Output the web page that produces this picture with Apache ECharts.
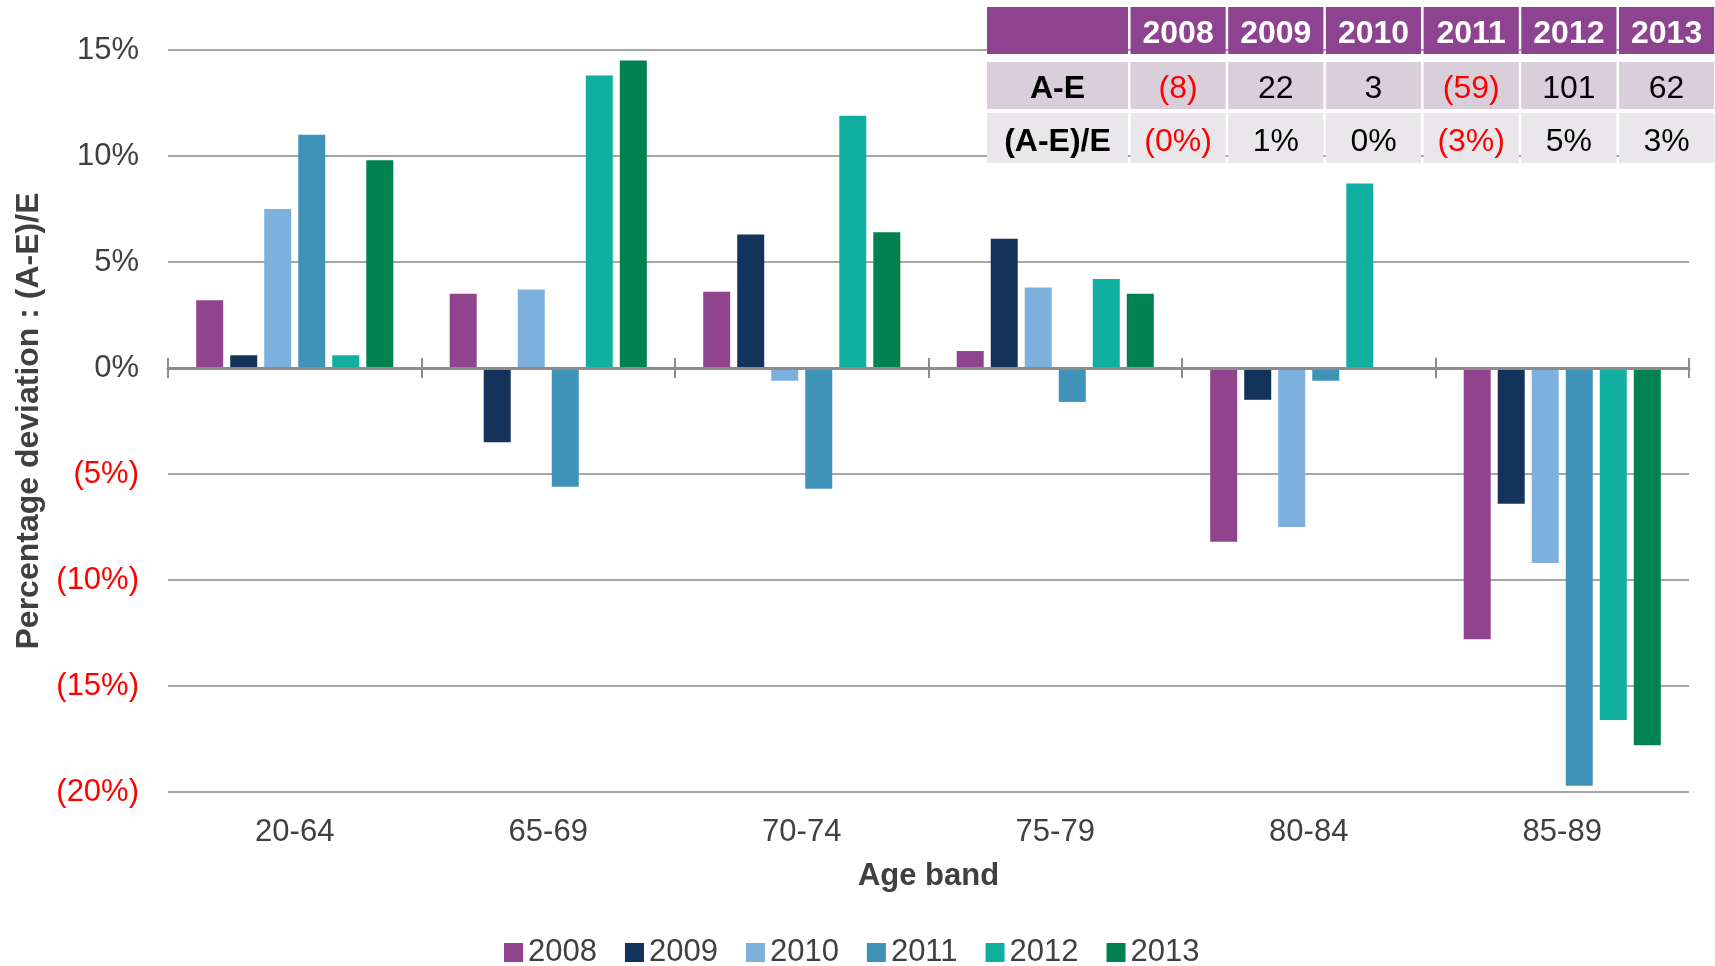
<!DOCTYPE html>
<html><head><meta charset="utf-8">
<script src="https://cdn.jsdelivr.net/npm/echarts@6/dist/echarts.min.js"></script>
<style>html,body{margin:0;padding:0;background:#fff}#c{width:1715px;height:966px}</style>
</head><body><div id="c"></div>
<script>
// ---- data ----
const categories = ['20-64', '65-69', '70-74', '75-79', '80-84', '85-89'];
const years = ['2008', '2009', '2010', '2011', '2012', '2013'];
const v2008 = [3.2, 3.5, 3.6, 0.8, -8.2, -12.8];
const v2009 = [0.6, -3.5, 6.3, 6.1, -1.5, -6.4];
const v2010 = [7.5, 3.7, -0.6, 3.8, -7.5, -9.2];
const v2011 = [11.0, -5.6, -5.7, -1.6, -0.6, -19.7];
const v2012 = [0.6, 13.8, 11.9, 4.2, 8.7, -16.6];
const v2013 = [9.8, 14.5, 6.4, 3.5, 0, -17.8];
const yMin = -20, yMax = 15, yStep = 5;
// summary table
const tableYears = years;
const rowLabels = ['A-E', '(A-E)/E'];
const aeValues = [-8, 22, 3, -59, 101, 62];
const aePct = [-0, 1, 0, -3, 5, 3];

// ---- styles ----
const seriesValues = [v2008, v2009, v2010, v2011, v2012, v2013];
const colors = ['#90448E', '#14335A', '#7EB0DE', '#4093B8', '#11AFA0', '#008250'];
const FF = '"Liberation Sans", Arial, sans-serif';
const TXT = '#404040';

function isNeg(v) { return v < 0 || Object.is(v, -0); }
function fmt(v, suffix) {
  return isNeg(v) ? '(' + Math.abs(v) + suffix + ')' : v + suffix;
}

// ---- table graphic ----
const tbl = { left: 987, firstW: 141, gap: 2.5, pitch: 97.7, colW: 95.2,
  rows: [{ y: 7, h: 47 }, { y: 62, h: 47 }, { y: 113, h: 50 }] };
const rowBg = ['#8E4390', '#D9CFDA', '#EAE7EB'];
const graphics = [];
for (let r = 0; r < 3; r++) {
  for (let c = 0; c <= tableYears.length; c++) {
    const x = c === 0 ? tbl.left : tbl.left + tbl.firstW + tbl.gap + (c - 1) * tbl.pitch;
    const w = c === 0 ? tbl.firstW : tbl.colW;
    const { y, h } = tbl.rows[r];
    graphics.push({ type: 'rect', z: 100, shape: { x: x, y: y, width: w, height: h }, style: { fill: rowBg[r] } });
    let text = '', color = '#000', weight = 'normal';
    if (r === 0) {
      if (c > 0) { text = tableYears[c - 1]; color = '#fff'; weight = 'bold'; }
    } else if (c === 0) {
      text = rowLabels[r - 1]; weight = 'bold';
    } else {
      const v = r === 1 ? aeValues[c - 1] : aePct[c - 1];
      text = fmt(v, r === 1 ? '' : '%');
      color = isNeg(v) ? '#FF0000' : '#000';
    }
    if (text) {
      graphics.push({ type: 'text', z: 101, style: { text: text, x: x + w / 2, y: y + h / 2 + 4,
        align: 'center', verticalAlign: 'middle', fill: color, fontSize: 32, fontWeight: weight, fontFamily: FF } });
    }
  }
}

const tickStyle = { color: '#8C8C8C', width: 2 };
const chart = echarts.init(document.getElementById('c'));
chart.setOption({
  animation: false,
  backgroundColor: '#fff',
  textStyle: { fontFamily: FF },
  grid: { left: 168, right: 26, top: 50, bottom: 174 },
  legend: {
    data: years, top: 932, left: 499, icon: 'rect', itemWidth: 19, itemHeight: 19, itemGap: 28,
    textStyle: { fontSize: 31, color: TXT, fontFamily: FF }
  },
  xAxis: [
    { type: 'category', data: categories, position: 'bottom',
      axisLine: { show: false, onZero: false }, axisTick: { show: false },
      axisLabel: { margin: 25, fontSize: 31, color: TXT, interval: 0 },
      name: 'Age band', nameLocation: 'middle', nameGap: 69,
      nameTextStyle: { fontSize: 31, fontWeight: 'bold', color: TXT } },
    { type: 'category', data: categories, position: 'bottom', z: 5,
      axisLine: { show: true, onZero: true, onZeroAxisIndex: 0, lineStyle: { color: '#8C8C8C', width: 3 } },
      axisTick: { show: true, interval: 0, length: 10, lineStyle: tickStyle },
      axisLabel: { show: false } },
    { type: 'category', data: categories, position: 'top', z: 5,
      axisLine: { show: false, onZero: true, onZeroAxisIndex: 0 },
      axisTick: { show: true, interval: 0, length: 10, lineStyle: tickStyle },
      axisLabel: { show: false } }
  ],
  yAxis: {
    type: 'value', min: yMin, max: yMax, interval: yStep,
    axisLine: { show: false }, axisTick: { show: false },
    splitLine: { lineStyle: { color: '#A6A6A6', width: 2 } },
    axisLabel: {
      margin: 29,
      formatter: v => isNeg(v) && v !== 0 ? '{neg|' + fmt(v, '%') + '}' : '{pos|' + v + '%}',
      rich: { neg: { fontSize: 31, color: '#FF0000', fontFamily: FF }, pos: { fontSize: 31, color: TXT, fontFamily: FF } }
    },
    name: 'Percentage deviation : (A-E)/E', nameLocation: 'middle', nameRotate: 90, nameGap: 122,
    nameTextStyle: { fontSize: 32, fontWeight: 'bold', color: TXT }
  },
  series: years.map((y, i) => ({
    name: y, type: 'bar', xAxisIndex: 0, data: seriesValues[i],
    barWidth: 27, barGap: '26%', itemStyle: { color: colors[i] }
  })),
  graphic: graphics
});
</script>
</body></html>
